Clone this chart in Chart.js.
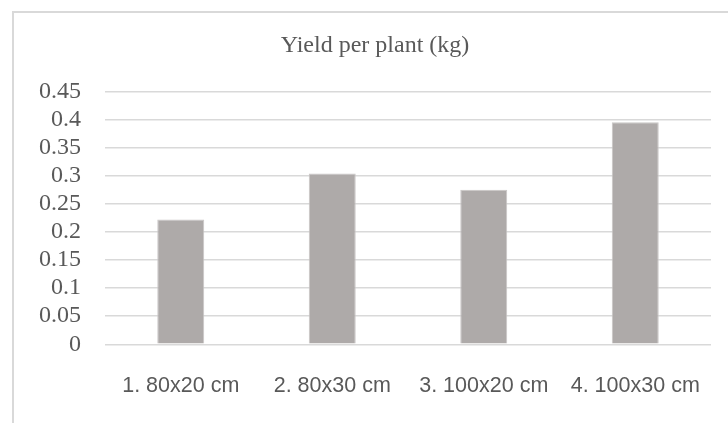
<!DOCTYPE html>
<html>
<head>
<meta charset="utf-8">
<script src="https://cdn.jsdelivr.net/npm/chart.js@4/dist/chart.umd.min.js"></script>
<style>
  html, body { margin: 0; padding: 0; background: #fff; overflow: hidden; width: 728px; height: 423px; }
  #box { position: absolute; left: 12px; top: 11px; width: 722px; height: 430px; border: 2px solid #d9d9d9; }
  #box canvas { display: block; }
</style>
</head>
<body>
<div id="box"><canvas id="yieldChart" width="722" height="430"></canvas></div>
<script>
// spacing treatments and yield per plant (kg)
const categories = ["1. 80x20 cm", "2. 80x30 cm", "3. 100x20 cm", "4. 100x30 cm"];
const yieldValues = [0.222, 0.304, 0.275, 0.395];
const yTicks = [0, 0.05, 0.1, 0.15, 0.2, 0.25, 0.3, 0.35, 0.4, 0.45];

const textGray = "#595959";

new Chart(document.getElementById("yieldChart"), {
  type: 'bar',
  data: {
    labels: categories,
    datasets: [
      {
        label: "Yield per plant (kg)",
        data: yieldValues,
        backgroundColor: "#aeaaa9",
        borderColor: "#c9c6c5",
        borderWidth: 1,
        barPercentage: 0.62,
        categoryPercentage: 0.5
      }
    ]
  },
  options: {
    responsive: false,
    animation: false,
    layout: { padding: { top: 0, right: 25, bottom: 0, left: 25 } },
    plugins: {
      legend: { display: false },
      tooltip: { enabled: false },
      title: {
        display: true,
        text: 'Yield per plant (kg)',
        color: textGray,
        font: { family: "'Liberation Serif', serif", size: 24, weight: 'normal' },
        padding: { top: 18.4, bottom: 31.1 }
      }
    },
    scales: {
      x: {
        grid: { display: false, drawTicks: false },
        border: { display: false },
        ticks: {
          color: textGray,
          padding: 29,
          maxRotation: 0,
          font: { family: "'Liberation Sans', sans-serif", size: 21.5 }
        },
        afterFit: s => { s.height = 98.7; }
      },
      y: {
        min: 0,
        max: 0.45,
        afterBuildTicks: s => { s.ticks = yTicks.map(v => ({ value: v })); },
        grid: { color: "#d9d9d9", lineWidth: 1.5, drawTicks: false },
        border: { display: false },
        ticks: {
          color: textGray,
          padding: 24,
          autoSkip: false,
          callback: v => String(Math.round(v * 100) / 100),
          font: { family: "'Liberation Serif', serif", size: 24 }
        },
        afterFit: s => { s.width = 66; }
      }
    }
  }
});
</script>
</body>
</html>
